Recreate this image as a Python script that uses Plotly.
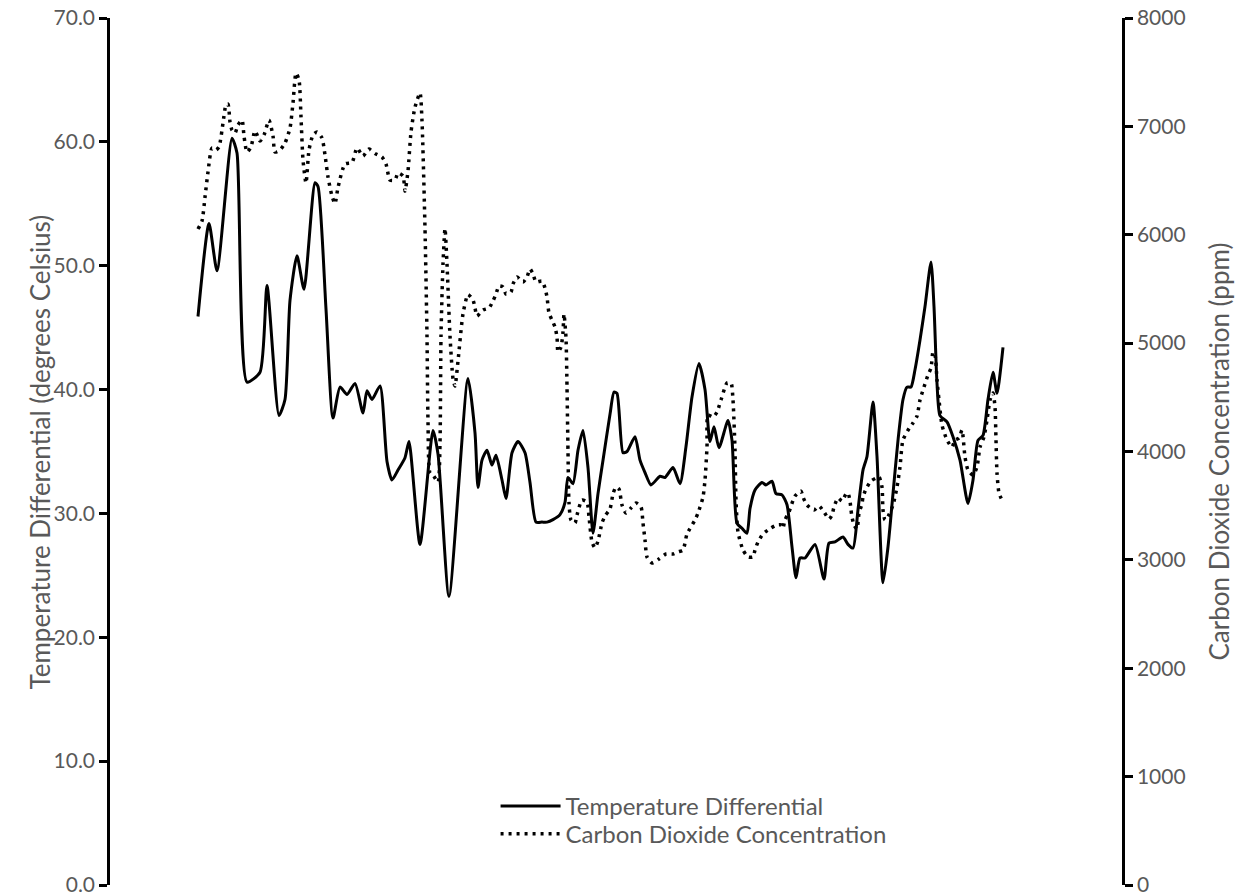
import plotly.graph_objects as go

# Sample positions (arbitrary time units along the record) and values
temp_pos = [0, 11, 19, 34, 39, 49, 62, 69, 81, 87, 92, 99, 106, 117, 120, 128, 135, 142, 149, 157,
            165, 169, 174, 182, 189, 194, 200, 207, 211, 222, 235, 240, 251, 270, 277, 280, 284, 289,
            294, 298, 304, 308, 314, 320, 327, 332, 338, 344, 349, 355, 362, 367, 370, 375, 380, 385,
            390, 395, 400, 405, 412, 416, 419, 425, 429, 437, 442, 447, 453, 462, 467, 475, 482, 488,
            494, 501, 507, 512, 516, 521, 530, 534, 539, 544, 549, 552, 557, 564, 568, 574, 578, 584,
            589, 594, 598, 602, 607, 617, 626, 631, 637, 645, 650, 655, 660, 665, 669, 675, 679, 685,
            690, 695, 700, 705, 709, 713, 717, 722, 727, 733, 736, 739, 742, 749, 755, 762, 770, 775,
            780, 785, 790, 795, 799, 805]
temp_values = [45.9, 53.4, 49.6, 60.3, 59.1, 40.6, 41.4, 48.4, 37.9, 39.2, 47.2, 50.8, 48.1, 56.7, 56.4,
               46.5, 37.7, 40.2, 39.6, 40.5, 38.1, 39.9, 39.2, 40.3, 34.2, 32.7, 33.5, 34.5, 35.8, 27.5,
               36.7, 34.8, 23.3, 40.9, 36.5, 32.1, 34.3, 35.1, 33.9, 34.7, 32.7, 31.2, 34.9, 35.8, 34.9,
               32.5, 29.3, 29.3, 29.3, 29.5, 29.9, 30.9, 32.9, 32.4, 35.1, 36.7, 33.7, 28.4, 31.6, 34.3,
               38.0, 39.8, 39.7, 34.9, 35.0, 36.2, 34.3, 33.3, 32.3, 33.0, 32.9, 33.7, 32.4, 35.4, 39.4,
               42.1, 40.0, 35.8, 37.0, 35.3, 37.5, 35.9, 29.2, 28.8, 28.4, 30.4, 31.9, 32.5, 32.3, 32.6,
               31.6, 31.5, 30.7, 27.3, 24.8, 26.4, 26.4, 27.5, 24.7, 27.6, 27.7, 28.1, 27.5, 27.2, 30.3,
               33.5, 34.6, 39.0, 34.6, 24.4, 27.3, 31.6, 35.9, 39.2, 40.2, 40.2, 41.6, 44.0, 46.7, 50.3,
               46.7, 40.5, 37.9, 37.4, 36.2, 34.3, 30.8, 32.7, 35.9, 36.3, 39.2, 41.4, 39.7, 43.4]

co2_pos = [0, 4, 7, 10, 14, 18, 21, 25, 28, 30, 32, 34, 37, 40, 44, 46, 49, 53, 57, 62, 66, 71, 75, 77,
           82, 87, 92, 95, 98, 101, 103, 105, 108, 111, 115, 119, 124, 127, 130, 134, 137, 140, 147, 154,
           159, 165, 171, 177, 184, 188, 192, 197, 200, 205, 207, 210, 213, 217, 222, 224, 227, 229, 230,
           232, 235, 240, 242, 243, 245, 247, 249, 252, 255, 257, 260, 265, 270, 275, 277, 279, 285, 291,
           295, 298, 301, 305, 308, 313, 315, 319, 325, 329, 332, 335, 338, 344, 347, 349, 351, 354, 357,
           359, 360, 363, 365, 366, 368, 369, 370, 371, 373, 377, 379, 384, 389, 391, 394, 397, 400, 404,
           407, 412, 415, 418, 421, 424, 428, 433, 438, 443, 445, 447, 449, 454, 461, 468, 475, 480, 485,
           489, 497, 500, 505, 507, 509, 510, 515, 519, 523, 529, 533, 535, 537, 538, 540, 545, 550, 555,
           557, 560, 565, 573, 579, 584, 585, 587, 591, 597, 603, 605, 609, 616, 621, 626, 631, 634, 636,
           640, 644, 648, 650, 652, 653, 654, 656, 659, 661, 664, 665, 668, 673, 678, 681, 684, 685, 687,
           690, 695, 699, 702, 705, 712, 715, 719, 722, 726, 730, 733, 735, 737, 739, 741, 744, 749, 754,
           757, 761, 764, 767, 770, 775, 779, 782, 786, 789, 792, 795, 797, 798, 799, 801, 804]
co2_values = [6053, 6127, 6348, 6579, 6800, 6782, 6810, 7031, 7197, 7206, 7040, 6966, 6939, 7012, 7058,
              6911, 6763, 6810, 6958, 6865, 6920, 7058, 6911, 6763, 6782, 6846, 6985, 7216, 7492, 7428,
              7086, 6690, 6477, 6782, 6920, 6948, 6893, 6736, 6533, 6357, 6287, 6436, 6653, 6667, 6800,
              6726, 6791, 6749, 6717, 6653, 6505, 6505, 6570, 6542, 6403, 6588, 6948, 7178, 7308, 7050,
              6057, 5066, 4281, 3801, 3783, 3718, 4078, 5066, 5730, 6057, 5730, 5066, 4673, 4604, 4835,
              5269, 5448, 5398, 5324, 5250, 5305, 5324, 5389, 5453, 5527, 5518, 5453, 5472, 5546, 5610,
              5564, 5610, 5684, 5638, 5564, 5573, 5509, 5426, 5278, 5213, 5149, 5056, 4918, 4964, 5103,
              5269, 5047, 4600, 4000, 3525, 3368, 3340, 3414, 3552, 3534, 3396, 3165, 3110, 3174, 3340,
              3405, 3470, 3608, 3672, 3654, 3506, 3432, 3479, 3525, 3488, 3340, 3183, 3027, 2971, 3008,
              3054, 3054, 3073, 3091, 3239, 3368, 3432, 3580, 3737, 4041, 4337, 4318, 4364, 4475, 4632,
              4632, 4475, 4014, 3552, 3257, 3091, 3027, 3027, 3091, 3165, 3239, 3294, 3322, 3322, 3294,
              3368, 3442, 3589, 3635, 3580, 3506, 3460, 3497, 3442, 3377, 3414, 3488, 3571, 3543, 3608,
              3617, 3543, 3460, 3396, 3322, 3285, 3432, 3516, 3580, 3654, 3728, 3755, 3765, 3672, 3460,
              3368, 3400, 3506, 3672, 3857, 4106, 4226, 4263, 4327, 4475, 4595, 4706, 4770, 4918, 4890,
              4660, 4475, 4244, 4106, 4041, 4106, 4124, 4198, 3949, 3829, 3783, 3857, 4041, 4134, 4290,
              4475, 4540, 4410, 4106, 3801, 3617, 3552, 3857]

temp_ticks = [0, 10, 20, 30, 40, 50, 60, 70]
co2_ticks = [0, 1000, 2000, 3000, 4000, 5000, 6000, 7000, 8000]

left_title = "Temperature Differential (degrees Celsius)"
right_title = "Carbon Dioxide Concentration (ppm)"

FONT = "Lato"
GREY = "#595959"

fig = go.Figure()
fig.add_trace(go.Scatter(
    x=temp_pos, y=temp_values, name="Temperature Differential", mode="lines",
    line=dict(color="black", width=3, shape="spline", smoothing=0.6), yaxis="y",
    legend="legend"))
fig.add_trace(go.Scatter(
    x=co2_pos, y=co2_values, name="Carbon Dioxide Concentration", mode="lines",
    line=dict(color="black", width=3.5, dash="3px,5px", shape="spline", smoothing=0.6), yaxis="y2",
    legend="legend2"))

axis_common = dict(showline=True, linecolor="black", linewidth=2.5,
                   ticks="outside", ticklen=8, tickwidth=2.5, tickcolor="black",
                   showgrid=False, zeroline=False, automargin=False,
                   ticklabeloverflow="allow",
                   tickfont=dict(family=FONT, size=21, color=GREY))

legend_common = dict(xanchor="left", yanchor="top", bgcolor="rgba(0,0,0,0)",
                     font=dict(family=FONT, size=24, color=GREY), itemwidth=60)

fig.update_layout(
    width=1241, height=896,
    margin=dict(l=110, r=119, t=18, b=11),
    paper_bgcolor="white", plot_bgcolor="white",
    font=dict(family=FONT, size=21, color=GREY),
    showlegend=True,
    legend=dict(x=0.381, y=0.1165, **legend_common),
    legend2=dict(x=0.381, y=0.0845, **legend_common),
    xaxis=dict(range=[-88, 924], visible=False, showgrid=False, zeroline=False),
    yaxis=dict(range=[0, 70], tickvals=temp_ticks, tickformat=".1f", **axis_common),
    yaxis2=dict(range=[0, 8000], tickvals=co2_ticks, overlaying="y", side="right", **axis_common),
    annotations=[
        dict(text=left_title, textangle=-90, xref="paper", yref="paper",
             x=-0.0692, y=0.5, xanchor="center", yanchor="middle", showarrow=False,
             font=dict(family=FONT, size=26, color=GREY)),
        dict(text=right_title, textangle=-90, xref="paper", yref="paper",
             x=1.0949, y=0.5, xanchor="center", yanchor="middle", showarrow=False,
             font=dict(family=FONT, size=26, color=GREY)),
    ],
)

fig.write_html("out.html", config={"displayModeBar": False},
               post_script="document.body.style.margin='0';document.body.style.overflow='hidden';")
